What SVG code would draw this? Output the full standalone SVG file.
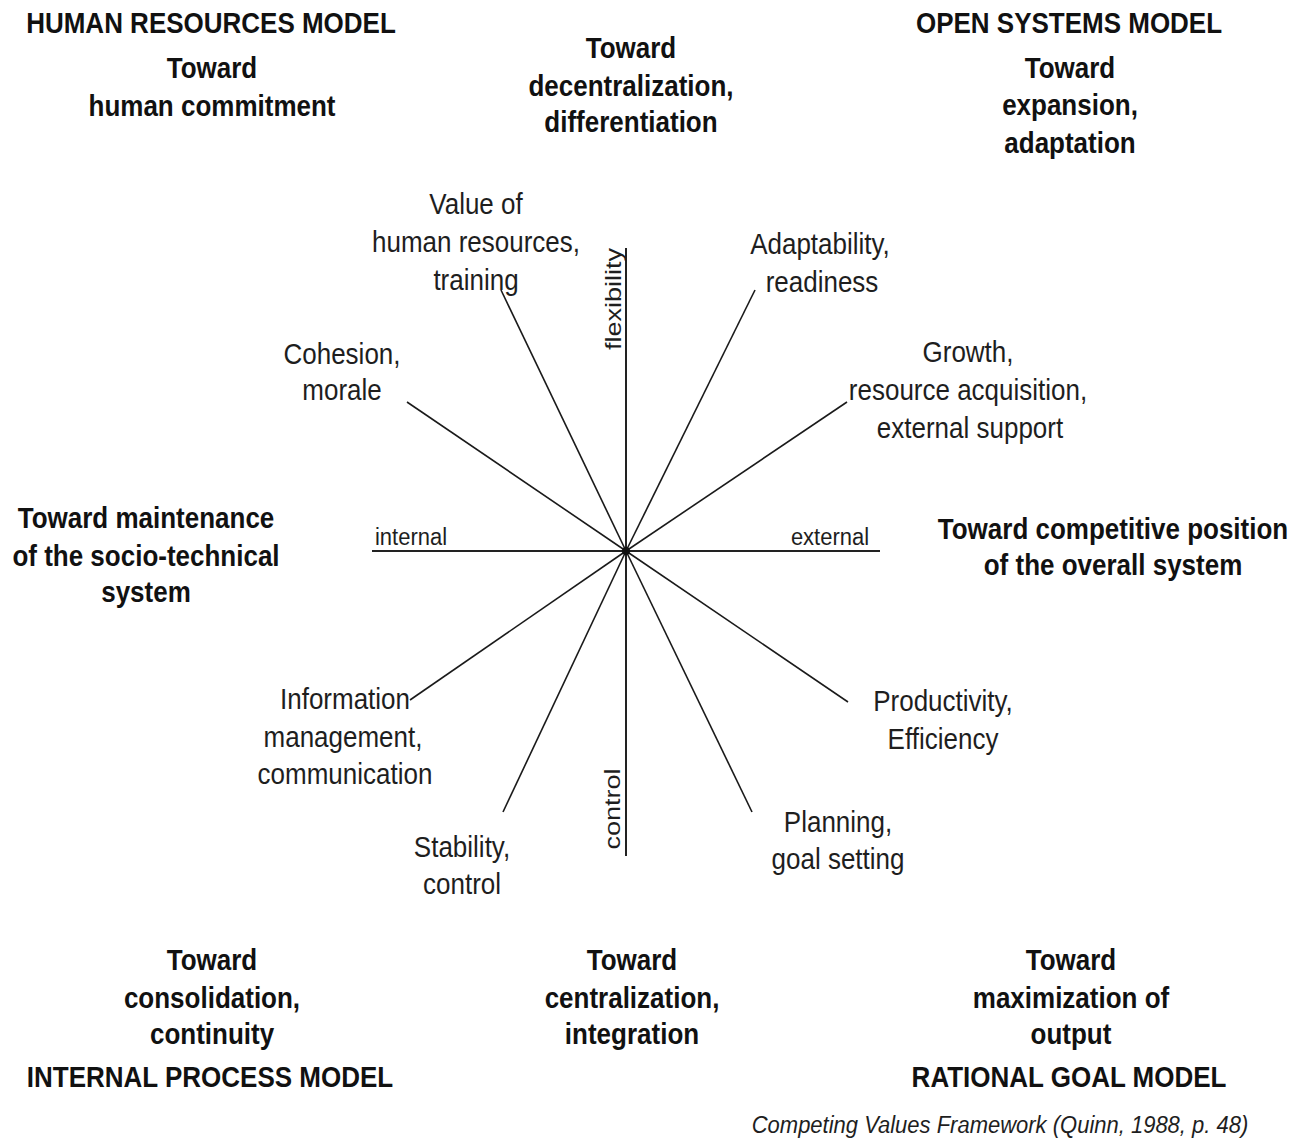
<svg xmlns="http://www.w3.org/2000/svg" width="1306" height="1142" viewBox="0 0 1306 1142">
  <style>
    text { font-family: "Liberation Sans", Arial, sans-serif; fill: #1e1e1e; text-anchor: middle; }
    .h { font-size: 26px; font-weight: bold; fill: #111; }
    .t { font-size: 26px; }
    .ax { font-size: 22px; }
    .cap { font-size: 22px; font-style: italic; }
    .axis { stroke: #222; stroke-width: 2; }
    .spoke { stroke: #1a1a1a; stroke-width: 1.6; }
  </style>
  <rect width="1306" height="1142" fill="#ffffff"/>

  <!-- spokes and axes -->
  <g id="connectors">
    <line class="axis" x1="372" y1="551" x2="880" y2="551"/>
    <line class="axis" x1="626" y1="248" x2="626" y2="856"/>
    <line class="spoke" x1="626" y1="551" x2="501" y2="290"/>
    <line class="spoke" x1="626" y1="551" x2="755" y2="290"/>
    <line class="spoke" x1="626" y1="551" x2="847" y2="402"/>
    <line class="spoke" x1="626" y1="551" x2="407" y2="402"/>
    <line class="spoke" x1="626" y1="551" x2="410" y2="700"/>
    <line class="spoke" x1="626" y1="551" x2="503" y2="812"/>
    <line class="spoke" x1="626" y1="551" x2="752" y2="812"/>
    <line class="spoke" x1="626" y1="551" x2="848" y2="702"/>
    <circle cx="626" cy="551" r="4" fill="#111"/>
  </g>

  <!-- axis labels -->
  <g id="axis-labels">
    <text class="ax" transform="translate(411 545) scale(1 1.12)">internal</text>
    <text class="ax" transform="translate(830 545) scale(1 1.12)">external</text>
    <text class="ax" transform="translate(621 299) rotate(-90) scale(1.23 1)">flexibility</text>
    <text class="ax" transform="translate(620 809) rotate(-90) scale(1.23 1)">control</text>
  </g>

  <!-- quadrant models -->
  <g id="human-resources-model">
    <text class="h" transform="translate(211 33) scale(1 1.12)">HUMAN RESOURCES MODEL</text>
    <text class="h" transform="translate(212 78) scale(1 1.12)">Toward</text>
    <text class="h" transform="translate(212 116) scale(1 1.12)">human commitment</text>
  </g>
  <g id="open-systems-model">
    <text class="h" transform="translate(1069 33) scale(1 1.12)">OPEN SYSTEMS MODEL</text>
    <text class="h" transform="translate(1070 78) scale(1 1.12)">Toward</text>
    <text class="h" transform="translate(1070 115) scale(1 1.12)">expansion,</text>
    <text class="h" transform="translate(1070 153) scale(1 1.12)">adaptation</text>
  </g>
  <g id="internal-process-model">
    <text class="h" transform="translate(212 970) scale(1 1.12)">Toward</text>
    <text class="h" transform="translate(212 1008) scale(1 1.12)">consolidation,</text>
    <text class="h" transform="translate(212 1044) scale(1 1.12)">continuity</text>
    <text class="h" transform="translate(210 1087) scale(1 1.12)">INTERNAL PROCESS MODEL</text>
  </g>
  <g id="rational-goal-model">
    <text class="h" transform="translate(1071 970) scale(1 1.12)">Toward</text>
    <text class="h" transform="translate(1071 1008) scale(1 1.12)">maximization of</text>
    <text class="h" transform="translate(1071 1044) scale(1 1.12)">output</text>
    <text class="h" transform="translate(1069 1087) scale(1 1.12)">RATIONAL GOAL MODEL</text>
  </g>

  <!-- axis directions -->
  <g id="toward-decentralization">
    <text class="h" transform="translate(631 58) scale(1 1.12)">Toward</text>
    <text class="h" transform="translate(631 96) scale(1 1.12)">decentralization,</text>
    <text class="h" transform="translate(631 132) scale(1 1.12)">differentiation</text>
  </g>
  <g id="toward-centralization">
    <text class="h" transform="translate(632 970) scale(1 1.12)">Toward</text>
    <text class="h" transform="translate(632 1008) scale(1 1.12)">centralization,</text>
    <text class="h" transform="translate(632 1044) scale(1 1.12)">integration</text>
  </g>
  <g id="toward-maintenance">
    <text class="h" transform="translate(146 528) scale(1 1.12)">Toward maintenance</text>
    <text class="h" transform="translate(146 566) scale(1 1.12)">of the socio-technical</text>
    <text class="h" transform="translate(146 602) scale(1 1.12)">system</text>
  </g>
  <g id="toward-competitive-position">
    <text class="h" transform="translate(1113 539) scale(1 1.12)">Toward competitive position</text>
    <text class="h" transform="translate(1113 575) scale(1 1.12)">of the overall system</text>
  </g>

  <!-- criteria at spoke ends -->
  <g id="value-of-human-resources">
    <text class="t" transform="translate(476 214) scale(1 1.12)">Value of</text>
    <text class="t" transform="translate(476 252) scale(1 1.12)">human resources,</text>
    <text class="t" transform="translate(476 290) scale(1 1.12)">training</text>
  </g>
  <g id="adaptability">
    <text class="t" transform="translate(820 254) scale(1 1.12)">Adaptability,</text>
    <text class="t" transform="translate(822 292) scale(1 1.12)">readiness</text>
  </g>
  <g id="cohesion">
    <text class="t" transform="translate(342 364) scale(1 1.12)">Cohesion,</text>
    <text class="t" transform="translate(342 400) scale(1 1.12)">morale</text>
  </g>
  <g id="growth">
    <text class="t" transform="translate(968 362) scale(1 1.12)">Growth,</text>
    <text class="t" transform="translate(968 400) scale(1 1.12)">resource acquisition,</text>
    <text class="t" transform="translate(970 438) scale(1 1.12)">external support</text>
  </g>
  <g id="information-management">
    <text class="t" transform="translate(345 709) scale(1 1.12)">Information</text>
    <text class="t" transform="translate(343 747) scale(1 1.12)">management,</text>
    <text class="t" transform="translate(345 784) scale(1 1.12)">communication</text>
  </g>
  <g id="productivity">
    <text class="t" transform="translate(943 711) scale(1 1.12)">Productivity,</text>
    <text class="t" transform="translate(943 749) scale(1 1.12)">Efficiency</text>
  </g>
  <g id="stability">
    <text class="t" transform="translate(462 857) scale(1 1.12)">Stability,</text>
    <text class="t" transform="translate(462 894) scale(1 1.12)">control</text>
  </g>
  <g id="planning">
    <text class="t" transform="translate(838 832) scale(1 1.12)">Planning,</text>
    <text class="t" transform="translate(838 869) scale(1 1.12)">goal setting</text>
  </g>

  <text class="cap" transform="translate(1000 1133) scale(1 1.12)">Competing Values Framework (Quinn, 1988, p. 48)</text>
</svg>
